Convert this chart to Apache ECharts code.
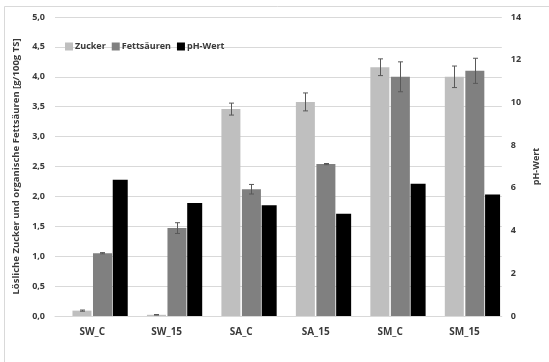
<!DOCTYPE html>
<html>
<head>
<meta charset="utf-8">
<script src="https://cdn.jsdelivr.net/npm/echarts@6/dist/echarts.min.js"></script>
<style>
  html, body { margin: 0; padding: 0; background: #fff; }
  #chart { width: 549px; height: 362px; }
</style>
</head>
<body>
<div id="chart"></div>
<script>
// Samples
const categories = ['SW_C', 'SW_15', 'SA_C', 'SA_15', 'SM_C', 'SM_15'];

// Soluble sugars and organic fatty acids [g/100g TS] with standard deviations
const zucker = [0.09, 0.02, 3.46, 3.58, 4.16, 4.00];
const zuckerErr = [0.01, 0.005, 0.10, 0.15, 0.14, 0.18];
const fett = [1.05, 1.47, 2.12, 2.54, 4.00, 4.10];
const fettErr = [0.01, 0.09, 0.08, 0.01, 0.25, 0.21];

// pH values (secondary axis)
const ph = [6.38, 5.29, 5.18, 4.79, 6.19, 5.69];

// Axis ticks
const leftTicks = { min: 0, max: 5, interval: 0.5 };
const rightTicks = { min: 0, max: 14, interval: 2 };

const FONT = '"Open Sans", "Noto Sans", sans-serif';
const TXT = '#3a3a3a';
const GRID = '#D9D9D9';

// Bar geometry on the primary category axis
const BAR_W = 19;
const BAR_GAP = 0.08;
const groupW = BAR_W * 2 + BAR_W * BAR_GAP;
const zuckerOffset = -groupW / 2 + BAR_W / 2;
const fettOffset = groupW / 2 - BAR_W / 2;

function errorBarSeries(values, errs, offset) {
  return {
    type: 'custom',
    xAxisIndex: 0,
    yAxisIndex: 0,
    silent: true,
    z: 10,
    data: values.map((v, i) => [i, v - errs[i], v + errs[i]]),
    renderItem: function (params, api) {
      const lo = api.coord([api.value(0), api.value(1)]);
      const hi = api.coord([api.value(0), api.value(2)]);
      const x = Math.round(lo[0] + offset) + 0.5;
      const cap = 2.5;
      const style = { stroke: '#595959', lineWidth: 1 };
      return {
        type: 'group',
        children: [
          { type: 'line', shape: { x1: x, y1: lo[1], x2: x, y2: hi[1] }, style },
          { type: 'line', shape: { x1: x - cap, y1: lo[1], x2: x + cap, y2: lo[1] }, style },
          { type: 'line', shape: { x1: x - cap, y1: hi[1], x2: x + cap, y2: hi[1] }, style }
        ]
      };
    }
  };
}

const chart = echarts.init(document.getElementById('chart'), null, { renderer: 'canvas' });

chart.setOption({
  animation: false,
  backgroundColor: '#fff',
  textStyle: { fontFamily: FONT },
  graphic: [{
    type: 'rect',
    shape: { x: 4.5, y: 6.5, width: 560, height: 380 },
    style: { fill: 'none', stroke: GRID, lineWidth: 1 },
    silent: true,
    z: -10
  }],
  legend: {
    data: ['Zucker', 'Fettsäuren', 'pH-Wert'],
    left: 60,
    top: 37,
    icon: 'rect',
    itemWidth: 8,
    itemHeight: 8,
    itemGap: 6,
    textStyle: { fontFamily: FONT, fontWeight: 'bold', fontSize: 9, color: TXT, padding: [0, 0, 0, -3] }
  },
  grid: { left: 55, right: 39.5, top: 17, bottom: 46, containLabel: false },
  xAxis: [
    {
      type: 'category',
      data: categories,
      axisLine: { show: true, lineStyle: { color: GRID, width: 1 } },
      axisTick: { show: false },
      axisLabel: { fontFamily: FONT, fontWeight: 'bold', fontSize: 10, color: TXT, margin: 11 }
    },
    {
      type: 'category',
      data: categories,
      show: false
    }
  ],
  yAxis: [
    {
      type: 'value',
      min: leftTicks.min,
      max: leftTicks.max,
      interval: leftTicks.interval,
      name: 'Lösliche Zucker und organische Fettsäuren [g/100g TS]',
      nameLocation: 'middle',
      nameRotate: 90,
      nameGap: 33,
      nameTextStyle: { fontFamily: FONT, fontWeight: 'bold', fontSize: 9.5, color: TXT },
      axisLine: { show: false },
      axisTick: { show: false },
      splitLine: { lineStyle: { color: GRID, width: 1 } },
      axisLabel: {
        fontFamily: FONT, fontWeight: 'bold', fontSize: 9, color: TXT, margin: 10,
        formatter: v => v.toFixed(1).replace('.', ',')
      }
    },
    {
      type: 'value',
      position: 'right',
      min: rightTicks.min,
      max: rightTicks.max,
      interval: rightTicks.interval,
      alignTicks: false,
      name: 'pH-Wert',
      nameLocation: 'middle',
      nameRotate: 90,
      nameGap: 26,
      nameTextStyle: { fontFamily: FONT, fontWeight: 'bold', fontSize: 9, color: TXT },
      axisLine: { show: false },
      axisTick: { show: false },
      splitLine: { show: false },
      axisLabel: { fontFamily: FONT, fontWeight: 'bold', fontSize: 9, color: TXT, margin: 9 }
    }
  ],
  series: [
    {
      name: 'Zucker',
      type: 'bar',
      xAxisIndex: 0,
      yAxisIndex: 0,
      data: zucker,
      barWidth: BAR_W,
      itemStyle: { color: '#BFBFBF' }
    },
    {
      name: 'Fettsäuren',
      type: 'bar',
      xAxisIndex: 0,
      yAxisIndex: 0,
      data: fett,
      barWidth: BAR_W,
      barGap: (BAR_GAP * 100) + '%',
      itemStyle: { color: '#808080' }
    },
    {
      // empty slot that pushes the pH bars to the right of the group
      name: 'slot',
      type: 'bar',
      xAxisIndex: 1,
      yAxisIndex: 1,
      data: categories.map(() => null),
      barWidth: 56,
      silent: true,
      itemStyle: { color: 'transparent' }
    },
    {
      name: 'pH-Wert',
      type: 'bar',
      xAxisIndex: 1,
      yAxisIndex: 1,
      data: ph,
      barWidth: 15,
      barGap: '0%',
      itemStyle: { color: '#000000' }
    },
    errorBarSeries(zucker, zuckerErr, zuckerOffset),
    errorBarSeries(fett, fettErr, fettOffset)
  ]
});
</script>
</body>
</html>
